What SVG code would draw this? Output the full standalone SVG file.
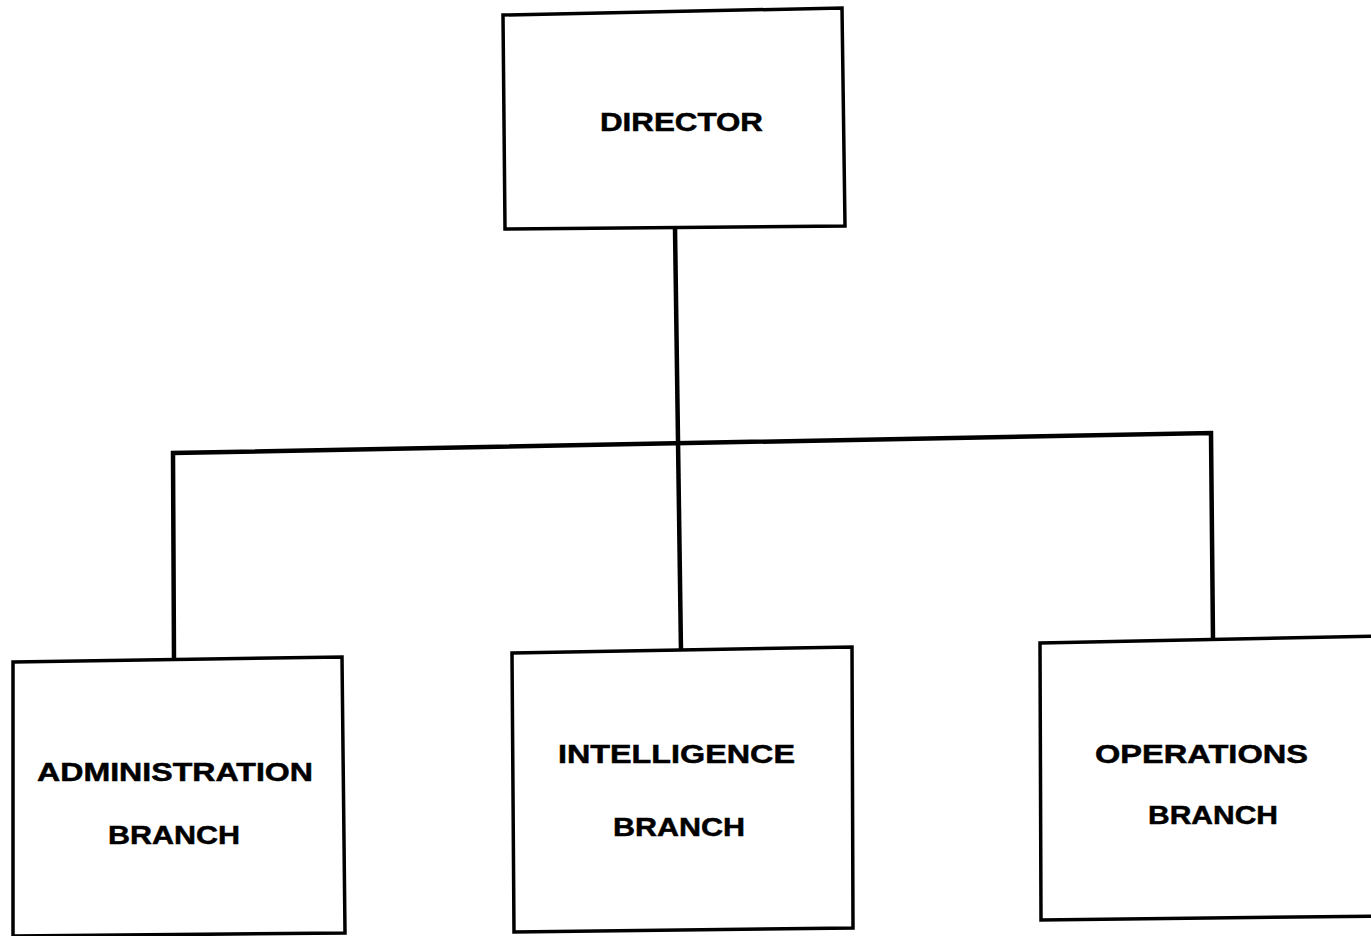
<svg xmlns="http://www.w3.org/2000/svg" width="1371" height="936" viewBox="0 0 1371 936">
<style>
.box{fill:#fff;stroke:#000;stroke-width:3.5;stroke-linejoin:miter}
.con{fill:none;stroke:#000;stroke-width:4.5;stroke-linejoin:miter}
.t{font-family:"Liberation Sans",Arial,sans-serif;font-weight:bold;font-size:26px;fill:#000;stroke:#000;stroke-width:0.5}
</style>
<rect width="1371" height="936" fill="#fff"/>
<g id="connectors">
<polyline class="con" points="675,228 681,652"/>
<polyline class="con" points="174,660 173,453 1211,433 1213,640"/>
</g>
<g id="director">
<polygon class="box" points="503,15 842,8 845,226 505,229"/>
<text class="t" x="600" y="131" textLength="163" lengthAdjust="spacingAndGlyphs">DIRECTOR</text>
</g>
<g id="administration">
<polygon class="box" points="13,662 342,657 345,933 13,936"/>
<text class="t" x="37" y="781" textLength="276" lengthAdjust="spacingAndGlyphs">ADMINISTRATION</text>
<text class="t" x="108" y="844" textLength="132" lengthAdjust="spacingAndGlyphs">BRANCH</text>
</g>
<g id="intelligence">
<polygon class="box" points="512,653 852,647 853,928 514,932"/>
<text class="t" x="558" y="763" textLength="237" lengthAdjust="spacingAndGlyphs">INTELLIGENCE</text>
<text class="t" x="613" y="836" textLength="132" lengthAdjust="spacingAndGlyphs">BRANCH</text>
</g>
<g id="operations">
<polygon class="box" points="1040,643 1380,636 1382,916 1041,920"/>
<text class="t" x="1095" y="763" textLength="213" lengthAdjust="spacingAndGlyphs">OPERATIONS</text>
<text class="t" x="1148" y="824" textLength="130" lengthAdjust="spacingAndGlyphs">BRANCH</text>
</g>
</svg>
